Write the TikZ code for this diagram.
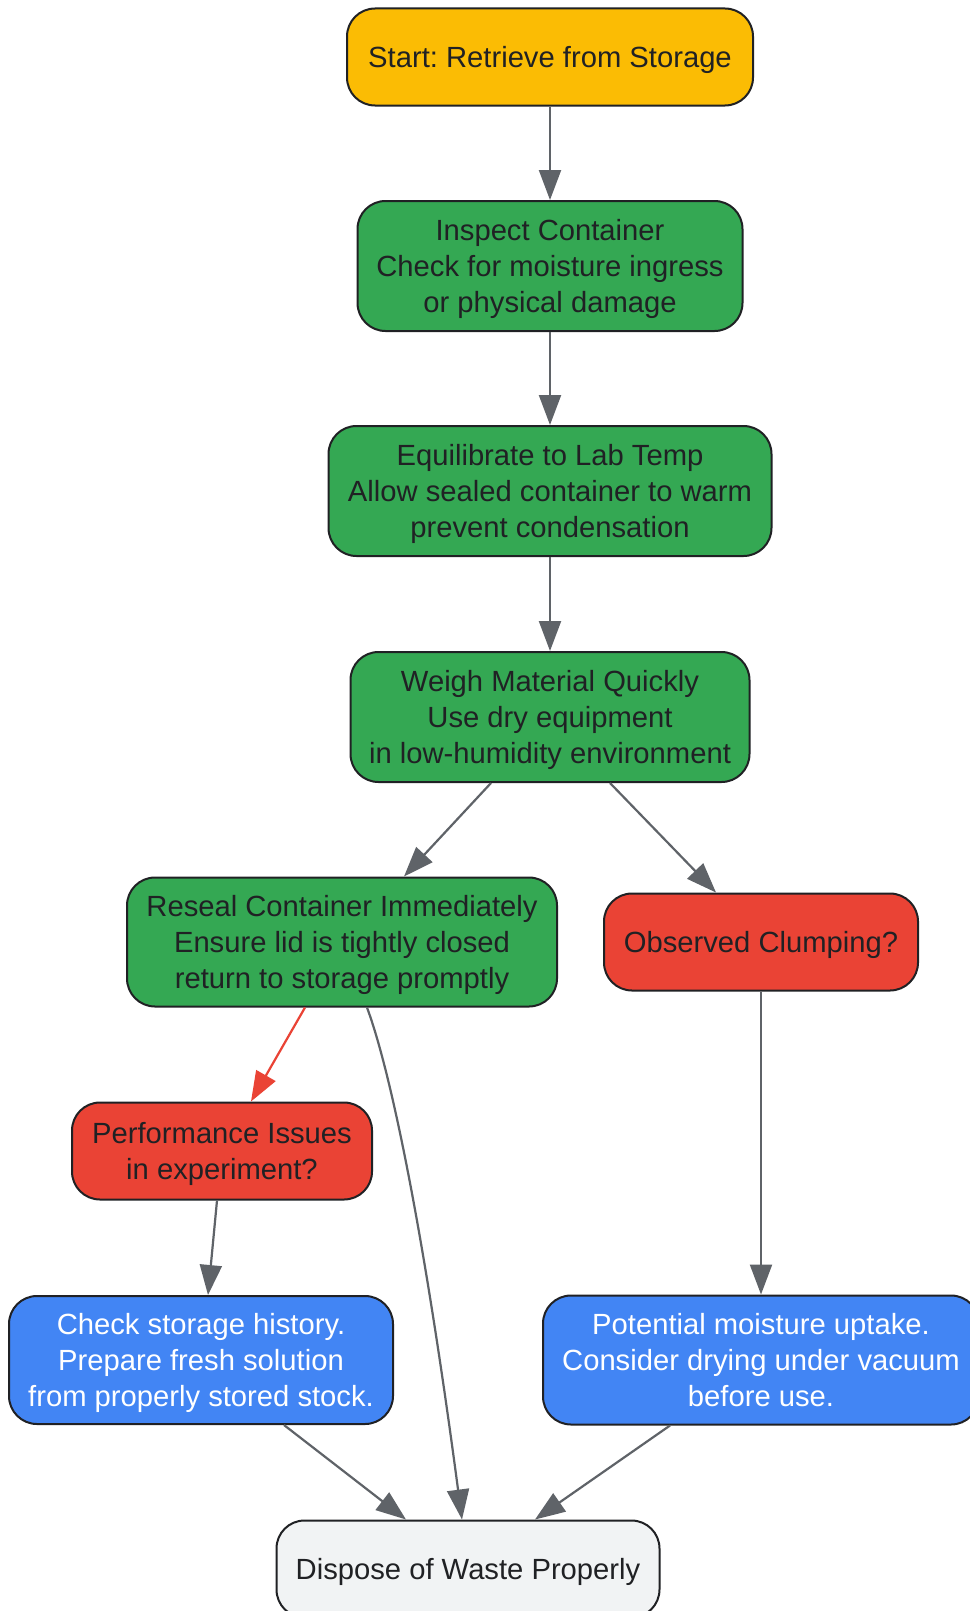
\documentclass[tikz,border=0pt]{standalone}
\usepackage{fontspec}
\setmainfont{Liberation Sans}
\usetikzlibrary{arrows.meta}
\frenchspacing
\definecolor{cyellow}{HTML}{FBBC04}
\definecolor{cgreen}{HTML}{34A853}
\definecolor{cred}{HTML}{EA4335}
\definecolor{cblue}{HTML}{4285F4}
\definecolor{cgrey}{HTML}{F1F3F4}
\definecolor{cedge}{HTML}{5F6368}
\definecolor{cborder}{HTML}{202124}
\newcommand{\tx}[1]{\raisebox{-3.5pt}[\height][\depth]{\begin{tabular}{@{}c@{}}#1\end{tabular}}}
\tikzset{
  box/.style={draw=cborder, line width=2pt, rectangle, rounded corners=28pt, align=center,
    inner sep=0pt, text=cborder, font=\fontsize{29.2}{36}\selectfont},
  ylw/.style={box, fill=cyellow},
  grn/.style={box, fill=cgreen},
  rd/.style={box, fill=cred},
  blu/.style={box, fill=cblue, text=white},
  gry/.style={box, fill=cgrey},
  edge/.style={draw=cedge, line width=2.2pt, -{Triangle[length=30pt,width=22pt]}},
  redge/.style={draw=cred, line width=2.2pt, -{Triangle[length=30pt,width=22pt]}}
}
\begin{document}
\begin{tikzpicture}[x=1pt,y=-1pt]
\useasboundingbox[fill=white] (0,0) rectangle (969,1611);
\node[ylw, minimum width=406pt, minimum height=97pt] (start) at (550,57) {\tx{Start: Retrieve from Storage}};
\node[grn, minimum width=385pt, minimum height=130pt] (inspect) at (550,266) {\tx{Inspect Container\\Check for moisture ingress\\or physical damage}};
\node[grn, minimum width=443pt, minimum height=130pt] (equil) at (550,491) {\tx{Equilibrate to Lab Temp\\Allow sealed container to warm\\prevent condensation}};
\node[grn, minimum width=399pt, minimum height=130pt] (weigh) at (550,717) {\tx{Weigh Material Quickly\\Use dry equipment\\in low-humidity environment}};
\node[grn, minimum width=430pt, minimum height=129pt] (reseal) at (342,942) {\tx{Reseal Container Immediately\\Ensure lid is tightly closed\\return to storage promptly}};
\node[rd, minimum width=314pt, minimum height=97pt] (clump) at (761,942) {\tx{Observed Clumping?}};
\node[rd, minimum width=300pt, minimum height=97pt] (perf) at (222,1151) {\tx{Performance Issues\\in experiment?}};
\node[blu, minimum width=384pt, minimum height=128pt] (check) at (201,1360) {\tx{Check storage history.\\Prepare fresh solution\\from properly stored stock.}};
\node[blu, minimum width=436pt, minimum height=129pt] (moist) at (761,1360) {\tx{Potential moisture uptake.\\Consider drying under vacuum\\before use.}};
\node[gry, minimum width=383pt, minimum height=97pt] (dispose) at (468,1569) {\tx{Dispose of Waste Properly}};

\draw[edge] (start) -- (inspect);
\draw[edge] (inspect) -- (equil);
\draw[edge] (equil) -- (weigh);
\draw[edge] ([xshift=-59pt]weigh.south) -- ([xshift=62pt]reseal.north);
\draw[edge] ([xshift=60pt]weigh.south) -- ([xshift=-45pt]clump.north);
\draw[redge] ([xshift=-37pt]reseal.south) -- ([xshift=29pt]perf.north);
\draw[edge] ([xshift=25pt]reseal.south) .. controls (392,1075) and (425,1240) .. ([xshift=-6pt]dispose.north);
\draw[edge] (clump) -- (moist);
\draw[edge] ([xshift=-5pt]perf.south) -- ([xshift=7pt]check.north);
\draw[edge] ([xshift=83pt]check.south) -- ([xshift=-62pt]dispose.north);
\draw[edge] ([xshift=-91pt]moist.south) -- ([xshift=67pt]dispose.north);
\end{tikzpicture}
\end{document}
